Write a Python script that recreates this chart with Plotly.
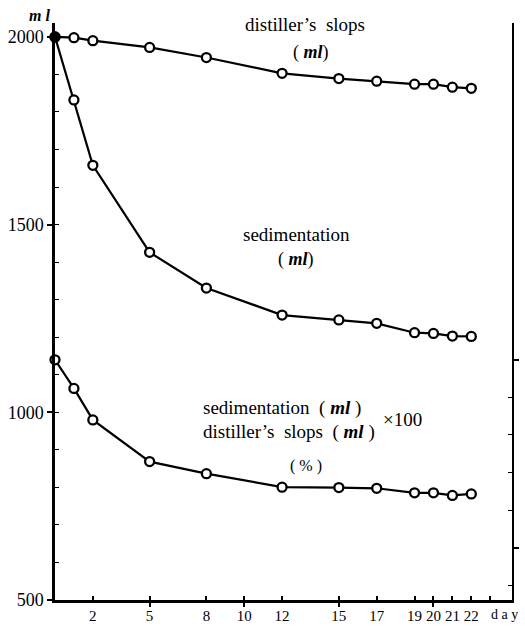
import plotly.graph_objects as go

# Days of observation
days = [0, 1, 2, 5, 8, 12, 15, 17, 19, 20, 21, 22]

# Volume of distiller's slops (ml)
slops_ml = [2000, 1998, 1990, 1972, 1945, 1903, 1889, 1882, 1874, 1874, 1866, 1863]

# Volume of sedimentation (ml)
sediment_ml = [2000, 1832, 1658, 1426, 1331, 1259, 1246, 1237, 1212, 1210, 1203, 1202]

# sedimentation / distiller's slops x 100 (%)
ratio_pct = [100, 92.4, 84.0, 72.9, 69.7, 66.1, 66.0, 65.8, 64.6, 64.6, 63.9, 64.3]

x_ticks = [2, 5, 8, 10, 12, 15, 17, 19, 20, 21, 22, 23]
x_ticktext = ["2", "5", "8", "10", "12", "15", "17", "19", "20", "21", "22", ""]
y_ticks = [500, 1000, 1500, 2000]

W, H = 525, 632
L, R, T, B = 54, 8, 23, 25
PW, PH = W - L - R, H - T - B

SERIF = "'Liberation Serif', 'Times New Roman', 'DejaVu Serif', serif"


def px(xp, yp):
    """Convert page pixels to paper coordinates."""
    return (xp - L) / PW, (H - B - yp) / PH


def open_markers(n, first_filled):
    cols = ["white"] * n
    if first_filled:
        cols[0] = "black"
    return dict(symbol="circle", size=9, color=cols, line=dict(color="black", width=2.3))


fig = go.Figure()

fig.add_trace(go.Scatter(
    x=days, y=slops_ml, mode="lines+markers",
    line=dict(color="black", width=2.2), marker=open_markers(len(days), True),
    showlegend=False, cliponaxis=False))

fig.add_trace(go.Scatter(
    x=days, y=sediment_ml, mode="lines+markers",
    line=dict(color="black", width=2.2), marker=open_markers(len(days), True),
    showlegend=False, cliponaxis=False))

fig.add_trace(go.Scatter(
    x=days, y=ratio_pct, mode="lines+markers", yaxis="y2",
    line=dict(color="black", width=2.2), marker=open_markers(len(days), False),
    showlegend=False, cliponaxis=False))

annotations = []


def label(text, xp, yp, size=19, xanchor="center"):
    ax, ay = px(xp, yp)
    annotations.append(dict(
        text=text, x=ax, y=ay, xref="paper", yref="paper",
        xanchor=xanchor, yanchor="middle", showarrow=False,
        font=dict(family=SERIF, size=size, color="black")))


ML = "( <b><i>ml</i></b>)"

label("<b><i>m l</i></b>", 38, 15, size=16)
label("distiller\u2019s&#160; slops", 307, 25)
label(ML, 313, 53, size=18)
label("sedimentation", 299, 237)
label(ML, 298, 262, size=18)
label("sedimentation&#160; ( <b><i>ml</i></b> )", 202, 413, xanchor="left")
label("distiller\u2019s&#160; slops&#160; ( <b><i>ml</i></b> )", 202, 437, xanchor="left")
label("\u00d7100", 384, 424, size=19, xanchor="left")
label("( % )", 308, 471, size=16)
label("d a y", 509, 622, size=14)

fig.update_layout(
    width=W, height=H,
    margin=dict(l=L, r=R, t=T, b=B, pad=0),
    paper_bgcolor="white", plot_bgcolor="white",
    font=dict(family=SERIF, color="black"),
    annotations=annotations,
    xaxis=dict(
        range=[0, 24.15], showgrid=False, zeroline=False,
        showline=True, linecolor="black", linewidth=2.5,
        tickmode="array", tickvals=x_ticks, ticktext=x_ticktext,
        ticks="inside", ticklen=4, tickwidth=1.5, tickcolor="black",
        tickfont=dict(family=SERIF, size=15),
        minor=dict(tickmode="array", tickvals=[5, 10, 15, 20],
                   ticks="outside", ticklen=4, tickwidth=1.5, tickcolor="black"),
    ),
    yaxis=dict(
        range=[500, 2037], showgrid=False, zeroline=False,
        showline=True, linecolor="black", linewidth=2.5,
        tickmode="array", tickvals=y_ticks,
        ticks="outside", ticklen=5, tickwidth=1.5, tickcolor="black",
        tickfont=dict(family=SERIF, size=18),
        minor=dict(tickmode="linear", tick0=500, dtick=100,
                   ticks="inside", ticklen=4, tickwidth=1.2, tickcolor="black"),
    ),
    yaxis2=dict(
        range=[36.05, 189.7], overlaying="y", side="right",
        showgrid=False, zeroline=False,
        showline=True, linecolor="black", linewidth=2,
        tickmode="array", tickvals=[50, 100],
        ticks="outside", ticklen=5, tickwidth=1.5, tickcolor="black",
        showticklabels=False,
        minor=dict(tickmode="array", tickvals=[40, 60, 70, 80, 90],
                   ticks="inside", ticklen=4, tickwidth=1.2, tickcolor="black"),
    ),
)

fig.write_html("out.html")
